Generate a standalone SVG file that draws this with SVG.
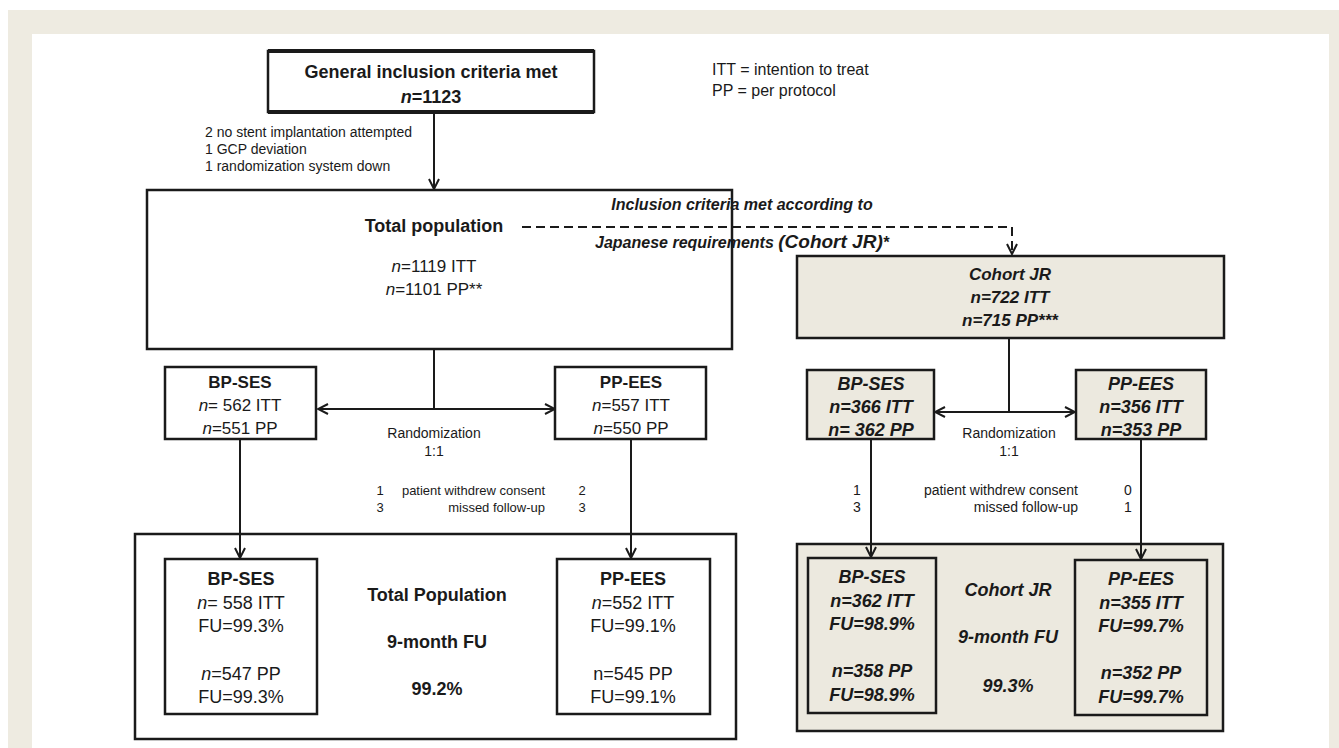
<svg xmlns="http://www.w3.org/2000/svg" width="1339" height="748" viewBox="0 0 1339 748">
<defs>
<style>
.bx{fill:#fff;stroke:#1a1a1a;stroke-width:2.5}
.bg{fill:#ecE9df;stroke:#1a1a1a;stroke-width:2.5}
.ln{fill:none;stroke:#1a1a1a;stroke-width:2}
.t{font-family:"Liberation Sans",Arial,sans-serif;fill:#1a1a1a;text-anchor:middle}
.b{font-weight:bold}
.bi{font-weight:bold;font-style:italic}
.s{font-size:14px;text-anchor:start}
.m{font-size:17px}
.l{font-size:18px}
.w{font-size:13px}
.w2{font-size:14px}
</style>
<marker id="ah" viewBox="0 0 12 12" refX="11" refY="6" markerWidth="12" markerHeight="12" markerUnits="userSpaceOnUse" orient="auto">
<path d="M1,1 L11,6 L1,11" fill="none" stroke="#1a1a1a" stroke-width="2"/>
</marker>
</defs>
<rect x="8" y="10" width="1331" height="738" fill="#eeebe1"/>
<rect x="32" y="34" width="1297" height="714" fill="#fff"/>

<g id="legend">
<text class="t" x="712" y="75" style="text-anchor:start;font-size:16px">ITT = intention to treat</text>
<text class="t" x="712" y="96" style="text-anchor:start;font-size:16px">PP = per protocol</text>
</g>

<g id="n-general">
<rect class="bx" x="268" y="51" width="326" height="61"/>
<line x1="268" y1="51" x2="594" y2="51" stroke="#1a1a1a" stroke-width="4"/>
<line x1="268" y1="112" x2="594" y2="112" stroke="#1a1a1a" stroke-width="4"/>
<text class="t b l" x="431" y="78">General inclusion criteria met</text>
<text class="t b l" x="431" y="103"><tspan font-style="italic">n</tspan>=1123</text>
</g>

<g id="exclusions">
<text class="t s" x="205" y="137">2 no stent implantation attempted</text>
<text class="t s" x="205" y="154">1 GCP deviation</text>
<text class="t s" x="205" y="171">1 randomization system down</text>
</g>

<g id="n-total">
<rect class="bx" x="147" y="190" width="585" height="159"/>
<text class="t b l" x="434" y="232">Total population</text>
<text class="t m" x="434" y="272"><tspan font-style="italic">n</tspan>=1119 ITT</text>
<text class="t m" x="434" y="295"><tspan font-style="italic">n</tspan>=1101 PP**</text>
</g>

<g id="n-cohort">
<rect class="bg" x="797" y="256" width="427" height="82"/>
<text class="t bi m" x="1010" y="280">Cohort JR</text>
<text class="t bi m" x="1010" y="303">n=722 ITT</text>
<text class="t bi m" x="1010" y="326">n=715 PP***</text>
</g>

<g id="n-bpses1">
<rect class="bx" x="165" y="367" width="151" height="72"/>
<text class="t b m" x="240" y="388">BP-SES</text>
<text class="t m" x="240" y="411"><tspan font-style="italic">n</tspan>= 562 ITT</text>
<text class="t m" x="240" y="434"><tspan font-style="italic">n</tspan>=551 PP</text>
</g>

<g id="n-ppees1">
<rect class="bx" x="555" y="367" width="151" height="72"/>
<text class="t b m" x="631" y="388">PP-EES</text>
<text class="t m" x="631" y="411"><tspan font-style="italic">n</tspan>=557 ITT</text>
<text class="t m" x="631" y="434"><tspan font-style="italic">n</tspan>=550 PP</text>
</g>

<g id="rand1">
<text class="t" x="434" y="438" style="font-size:14px">Randomization</text>
<text class="t" x="434" y="456" style="font-size:14px">1:1</text>
</g>

<g id="n-bpses2">
<rect class="bg" x="807" y="370" width="127" height="69"/>
<text class="t bi" x="871" y="390" style="font-size:18px">BP-SES</text>
<text class="t bi" x="871" y="413" style="font-size:18px">n=366 ITT</text>
<text class="t bi" x="871" y="436" style="font-size:18px">n= 362 PP</text>
</g>

<g id="n-ppees2">
<rect class="bg" x="1076" y="370" width="130" height="69"/>
<text class="t bi" x="1141" y="390" style="font-size:18px">PP-EES</text>
<text class="t bi" x="1141" y="413" style="font-size:18px">n=356 ITT</text>
<text class="t bi" x="1141" y="436" style="font-size:18px">n=353 PP</text>
</g>

<g id="rand2">
<text class="t" x="1009" y="438" style="font-size:14px">Randomization</text>
<text class="t" x="1009" y="456" style="font-size:14px">1:1</text>
</g>

<g id="withdrawals1">
<text class="t w" x="380" y="495">1</text>
<text class="t w" x="545" y="495" style="text-anchor:end">patient withdrew consent</text>
<text class="t w" x="582" y="495">2</text>
<text class="t w" x="380" y="512">3</text>
<text class="t w" x="545" y="512" style="text-anchor:end">missed follow-up</text>
<text class="t w" x="582" y="512">3</text>
</g>

<g id="withdrawals2">
<text class="t w2" x="857" y="495">1</text>
<text class="t w2" x="1078" y="495" style="text-anchor:end">patient withdrew consent</text>
<text class="t w2" x="1128" y="495">0</text>
<text class="t w2" x="857" y="512">3</text>
<text class="t w2" x="1078" y="512" style="text-anchor:end">missed follow-up</text>
<text class="t w2" x="1128" y="512">1</text>
</g>

<g id="n-fu-total">
<rect class="bx" x="135" y="534" width="601" height="205"/>
<text class="t b l" x="437" y="601">Total Population</text>
<text class="t b l" x="437" y="648">9-month FU</text>
<text class="t b l" x="437" y="695">99.2%</text>
</g>

<g id="n-fu-bpses">
<rect class="bx" x="165" y="559" width="152" height="155"/>
<text class="t b l" x="241" y="585">BP-SES</text>
<text class="t l" x="241" y="609"><tspan font-style="italic">n</tspan>= 558 ITT</text>
<text class="t l" x="241" y="632">FU=99.3%</text>
<text class="t l" x="241" y="680"><tspan font-style="italic">n</tspan>=547 PP</text>
<text class="t l" x="241" y="703">FU=99.3%</text>
</g>

<g id="n-fu-ppees">
<rect class="bx" x="557" y="559" width="153" height="155"/>
<text class="t b l" x="633" y="585">PP-EES</text>
<text class="t l" x="633" y="609"><tspan font-style="italic">n</tspan>=552 ITT</text>
<text class="t l" x="633" y="632">FU=99.1%</text>
<text class="t l" x="633" y="680">n=545 PP</text>
<text class="t l" x="633" y="703">FU=99.1%</text>
</g>

<g id="n-fu-cohort">
<rect class="bg" x="797" y="544" width="426" height="187"/>
<text class="t bi l" x="1008" y="596">Cohort JR</text>
<text class="t bi l" x="1008" y="643">9-month FU</text>
<text class="t bi l" x="1008" y="692">99.3%</text>
</g>

<g id="n-fu-bpses2">
<rect class="bg" x="808" y="558" width="128" height="155"/>
<text class="t bi l" x="872" y="583">BP-SES</text>
<text class="t bi l" x="872" y="607">n=362 ITT</text>
<text class="t bi l" x="872" y="630">FU=98.9%</text>
<text class="t bi l" x="872" y="677">n=358 PP</text>
<text class="t bi l" x="872" y="701">FU=98.9%</text>
</g>

<g id="n-fu-ppees2">
<rect class="bg" x="1075" y="560" width="132" height="155"/>
<text class="t bi l" x="1141" y="585">PP-EES</text>
<text class="t bi l" x="1141" y="609">n=355 ITT</text>
<text class="t bi l" x="1141" y="632">FU=99.7%</text>
<text class="t bi l" x="1141" y="679">n=352 PP</text>
<text class="t bi l" x="1141" y="703">FU=99.7%</text>
</g>

<g id="connectors">
<line class="ln" x1="434" y1="114" x2="434" y2="189" marker-end="url(#ah)"/>
<polyline class="ln" points="522,227 1012,227 1012,254" stroke-dasharray="9,5" stroke-width="2.5" marker-end="url(#ah)"/>
<line class="ln" x1="434" y1="349" x2="434" y2="409"/>
<line class="ln" x1="434" y1="409" x2="318" y2="409" marker-end="url(#ah)"/>
<line class="ln" x1="434" y1="409" x2="555" y2="409" marker-end="url(#ah)"/>
<line class="ln" x1="1009" y1="338" x2="1009" y2="412"/>
<line class="ln" x1="1009" y1="412" x2="935" y2="412" marker-end="url(#ah)"/>
<line class="ln" x1="1009" y1="412" x2="1075" y2="412" marker-end="url(#ah)"/>
<line class="ln" x1="240" y1="440" x2="240" y2="558" marker-end="url(#ah)"/>
<line class="ln" x1="631" y1="440" x2="631" y2="558" marker-end="url(#ah)"/>
<line class="ln" x1="871" y1="440" x2="871" y2="557" marker-end="url(#ah)"/>
<line class="ln" x1="1141" y1="440" x2="1141" y2="559" marker-end="url(#ah)"/>
</g>

<g id="jr-label">
<text class="t bi" x="742" y="210" style="font-size:16px">Inclusion criteria met according to</text>
<text class="t bi" x="742" y="248" style="font-size:16px">Japanese requirements <tspan style="font-size:19px">(Cohort JR)</tspan>*</text>
</g>
</svg>
